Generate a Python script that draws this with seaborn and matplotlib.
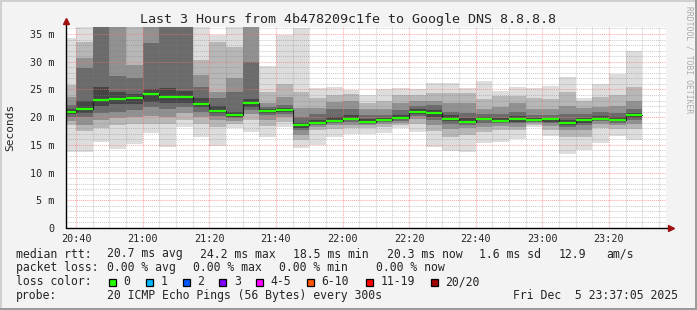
import numpy as np
import pandas as pd
import matplotlib
matplotlib.use("Agg")
import matplotlib.pyplot as plt
import seaborn as sns
from matplotlib.patches import Rectangle
from matplotlib.ticker import FixedLocator, FuncFormatter

# ---------------- data (ms) ----------------
# 5-minute slots starting 20:35, sorted-ping ranks (out of 20) per slot
slots = pd.date_range("2025-12-05 20:35", periods=35, freq="5min")
median = [20.9, 21.5, 23.1, 23.3, 23.5, 24.2, 23.6, 23.7, 22.4, 21.1, 20.3, 22.5, 21.1, 21.3, 18.5,
          18.9, 19.3, 19.7, 19.2, 19.5, 19.9, 21.0, 20.7, 19.7, 19.2, 19.7, 19.3, 19.7, 19.5, 19.6,
          18.9, 19.5, 19.7, 19.5, 20.3]
p01 = [13.7, 13.7, 15.5, 14.3, 15.2, 17.2, 14.7, 18.3, 16.5, 14.8, 18.0, 17.4, 16.4, 18.3, 14.4,
       15.0, 16.5, 17.0, 17.0, 17.2, 18.0, 17.3, 14.7, 13.9, 13.7, 15.4, 15.6, 16.1, 18.2, 16.6,
       13.4, 14.0, 15.3, 16.6, 15.8]
p03 = [18.5, 17.5, 18.0, 18.5, 18.8, 18.8, 18.8, 19.5, 18.8, 18.2, 18.8, 19.5, 18.4, 19.2, 15.8,
       17.6, 17.8, 18.0, 18.0, 18.3, 18.5, 18.8, 17.5, 16.5, 16.8, 17.3, 17.6, 17.6, 18.6, 17.6,
       16.5, 16.4, 18.0, 17.8, 17.8]
p05 = [19.3, 18.6, 19.5, 19.8, 20.0, 20.2, 20.0, 20.8, 20.0, 19.4, 19.3, 20.5, 19.5, 20.0, 16.8,
       18.2, 18.5, 18.6, 18.5, 18.8, 18.9, 19.6, 18.6, 17.8, 18.0, 18.3, 18.4, 18.3, 18.9, 18.4,
       17.6, 17.6, 18.8, 18.6, 18.7]
p07 = [20.0, 20.0, 20.8, 21.0, 21.2, 21.8, 21.5, 21.8, 21.0, 20.2, 19.8, 21.3, 20.3, 20.6, 17.6,
       18.5, 18.9, 19.1, 18.8, 19.1, 19.3, 20.2, 19.4, 18.8, 18.6, 19.0, 18.9, 18.9, 19.2, 18.9,
       18.2, 18.5, 19.3, 19.0, 19.4]
p09 = [20.5, 20.8, 22.0, 22.3, 22.4, 22.8, 22.6, 22.6, 21.8, 20.7, 20.0, 21.9, 20.8, 21.0, 18.1,
       18.7, 19.1, 19.4, 19.0, 19.3, 19.6, 20.6, 20.0, 19.3, 18.9, 19.4, 19.1, 19.2, 19.3, 19.2,
       18.6, 19.0, 19.5, 19.3, 19.9]
p12 = [21.4, 23.0, 25.5, 24.6, 24.2, 25.0, 25.3, 24.8, 23.5, 22.0, 21.0, 23.3, 21.4, 21.6, 19.0,
       19.5, 20.0, 20.3, 19.6, 19.8, 20.4, 21.4, 21.3, 20.3, 19.8, 20.0, 19.8, 20.2, 19.8, 19.9,
       19.4, 19.8, 20.2, 20.0, 20.8]
p14 = [22.2, 28.8, 40.0, 27.4, 27.0, 33.3, 40.0, 40.0, 25.5, 23.5, 24.6, 30.0, 21.8, 22.2, 20.0,
       20.5, 21.4, 21.5, 20.3, 20.4, 21.2, 22.0, 22.2, 21.0, 20.8, 20.6, 20.5, 21.0, 20.3, 20.4,
       20.5, 20.6, 20.9, 20.8, 21.4]
p16 = [23.7, 30.6, 40.0, 40.0, 29.4, 40.0, 40.0, 40.0, 27.6, 24.6, 27.0, 40.0, 22.5, 23.6, 21.6,
       21.6, 22.7, 23.0, 21.5, 21.5, 22.5, 23.0, 23.0, 22.5, 22.5, 21.5, 21.8, 22.6, 21.4, 21.4,
       22.0, 21.6, 21.9, 22.0, 23.0]
p18 = [25.8, 33.6, 40.0, 40.0, 40.0, 40.0, 40.0, 40.0, 30.3, 33.5, 32.6, 40.0, 24.6, 26.0, 24.5,
       23.4, 24.0, 24.2, 22.5, 23.0, 24.0, 24.0, 24.4, 24.4, 24.3, 23.2, 23.8, 23.8, 23.5, 23.3,
       24.5, 23.0, 23.6, 24.0, 25.5]
p20 = [34.3, 40.0, 40.0, 40.0, 40.0, 40.0, 40.0, 40.0, 40.0, 34.8, 40.0, 40.0, 29.2, 34.8, 36.0,
       25.2, 25.5, 24.9, 24.0, 25.0, 25.3, 25.0, 26.1, 26.1, 25.2, 26.6, 24.8, 25.4, 25.2, 25.7,
       27.2, 23.4, 25.9, 27.7, 32.0]

y_ticks = [0, 5, 10, 15, 20, 25, 30, 35]
y_tick_labels = ["0", "5 m", "10 m", "15 m", "20 m", "25 m", "30 m", "35 m"]
x_tick_labels = ["20:40", "21:00", "21:20", "21:40", "22:00", "22:20", "22:40", "23:00", "23:20"]

title = "Last 3 Hours from 4b478209c1fe to Google DNS 8.8.8.8"
loss_labels = ["0", "1", "2", "3", "4-5", "6-10", "11-19", "20/20"]
loss_colors = ["#26ff00", "#00b8ff", "#0059ff", "#7e00ff", "#ff00ff", "#ff5500", "#ff0000", "#a10000"]

# ---------------- figure ----------------
W, H, DPI = 697, 310, 100
sns.set_style("white")
plt.rcParams["font.family"] = ["DejaVu Sans Mono", "DejaVu Sans"]

fig = plt.figure(figsize=(W / DPI, H / DPI), dpi=DPI, facecolor="#f3f3f3")


def fx(x):
    return x / W


def fy(y):
    return 1 - y / H


ax_left, ax_right, ax_bottom, ax_top = 66.3, 665.9, 228.0, 27.0
ax = fig.add_axes([fx(ax_left), fy(ax_bottom), (ax_right - ax_left) / W, (ax_bottom - ax_top) / H])
ax.set_facecolor("white")

x_start = np.array(slots.hour * 60 + slots.minute, dtype=float)
xmin = 20 * 60 + 37 + 5 / 60
xmax = xmin + 180
ymax = 36.26
ax.set_xlim(xmin, xmax)
ax.set_ylim(0, ymax)

# smoke bands: outer (light) to inner (dark)
bands = [(p01, p20, "#dddddd"), (p03, p18, "#b7b7b7"), (p05, p16, "#919191"),
         (p07, p14, "#6b6b6b"), (p09, p12, "#454545")]
for lo, hi, col in bands:
    lo = np.array(lo)
    hi = np.minimum(np.array(hi), ymax + 1)
    ax.bar(x_start, hi - lo, bottom=lo, width=5, align="edge", color=col,
           linewidth=0, zorder=1, antialiased=False)

# grid (drawn over smoke, like rrdtool)
for m in range(1, 37):
    if m % 5 == 0:
        ax.axhline(m, color="#ff7070", alpha=0.6, lw=0.75, ls=(0, (1, 1)), zorder=3)
    else:
        ax.axhline(m, color="#808080", alpha=0.4, lw=0.75, ls=(0, (1, 1)), zorder=3)
for t in np.arange(1240, 1420, 5):
    if t % 20 == 0:
        ax.axvline(t, color="#ff7070", alpha=0.6, lw=0.75, ls=(0, (1, 1)), zorder=3)
    else:
        ax.axvline(t, color="#808080", alpha=0.4, lw=0.75, ls=(0, (1, 1)), zorder=3)

# median: dark step connector + green segments
step_x = list(x_start) + [x_start[-1] + 5]
step_y = list(median) + [median[-1]]
sns.lineplot(x=step_x, y=step_y, drawstyle="steps-post", color="#202020", lw=0.8,
             ax=ax, zorder=4, estimator=None, sort=False)
ax.hlines(median, x_start, x_start + 5, colors="#26ff00", lw=1.6, zorder=5)

# axes styling
for s in ax.spines.values():
    s.set_visible(False)
ax.plot([xmin, xmax + 0.5], [0, 0], color="black", lw=1, zorder=6, clip_on=False)
ax.plot([xmin, xmin], [0, ymax + 0.6], color="black", lw=1, zorder=6, clip_on=False)
ax.plot([xmax + 1.4], [0], marker=">", color="#a01010", markersize=4.5, clip_on=False, zorder=7)
ax.plot([xmin], [ymax + 1.0], marker="^", color="#a01010", markersize=4.5, clip_on=False, zorder=7)

ax.xaxis.set_major_locator(FixedLocator(np.arange(1240, 1401, 20)))
ax.xaxis.set_minor_locator(FixedLocator(np.arange(1240, 1416, 5)))
ax.xaxis.set_major_formatter(FuncFormatter(lambda v, p: x_tick_labels[int(round((v - 1240) / 20))]))
ax.yaxis.set_major_locator(FixedLocator(y_ticks))
ax.yaxis.set_minor_locator(FixedLocator(range(1, 37)))
ax.set_yticklabels(y_tick_labels)
ax.tick_params(axis="both", which="major", length=3, width=0.8, color="black",
               direction="out", labelsize=7.3)
ax.tick_params(axis="both", which="minor", length=2, width=0.6, color="#404040", direction="out")
ax.tick_params(axis="x", which="major", pad=1.5)
ax.tick_params(axis="y", which="major", pad=5.5)

# ---------------- texts ----------------
FS = 8.3
fig.text(fx(347.5), fy(23), title, ha="center", va="baseline", fontsize=9.6)
fig.text(fx(10.5), fy(127), "Seconds", rotation=90, ha="center", va="center", fontsize=8.0)
fig.text(fx(688.5), fy(60), "RRDTOOL / TOBI OETIKER", rotation=270, ha="center", va="center",
         fontsize=5.8, color="#aaaaaa")

rows = [
    (257.5, [(16, "median rtt:"), (107.3, "20.7 ms avg"), (200, "24.2 ms max"),
             (293.3, "18.5 ms min"), (386.7, "20.3 ms now"), (479.3, "1.6 ms sd"),
             (558.3, "12.9"), (606.7, "am/s")]),
    (271.3, [(16, "packet loss:"), (107.3, "0.00 % avg"), (193.3, "0.00 % max"),
             (279.3, "0.00 % min"), (376, "0.00 % now")]),
    (285.3, [(16, "loss color:")]),
    (299.0, [(16, "probe:"), (107.3, "20 ICMP Echo Pings (56 Bytes) every 300s"),
             (513.3, "Fri Dec  5 23:37:05 2025")]),
]
for yb, items in rows:
    for xp, s in items:
        fig.text(fx(xp), fy(yb), s, ha="left", va="baseline", fontsize=FS)

box_x = [108.7, 145.7, 182.7, 219.3, 256.0, 307.0, 365.7, 430.7]
for bx, lab, col in zip(box_x, loss_labels, loss_colors):
    fig.patches.append(Rectangle((fx(bx), fy(286)), 7 / W, 7 / H, transform=fig.transFigure,
                                 facecolor=col, edgecolor="black", lw=0.9))
    fig.text(fx(bx + 14.6), fy(285.3), lab, ha="left", va="baseline", fontsize=FS)

# frame
fig.patches.append(Rectangle((0, fy(2)), 1, 2 / H, transform=fig.transFigure, color="#d0d0d0", lw=0))
fig.patches.append(Rectangle((0, 0), 2 / W, 1, transform=fig.transFigure, color="#d0d0d0", lw=0))
fig.patches.append(Rectangle((0, 0), 1, 2.5 / H, transform=fig.transFigure, color="#9c9c9c", lw=0))
fig.patches.append(Rectangle((1 - 2.5 / W, 0), 2.5 / W, 1, transform=fig.transFigure, color="#9c9c9c", lw=0))

fig.savefig("out.png", dpi=DPI, facecolor=fig.get_facecolor())
